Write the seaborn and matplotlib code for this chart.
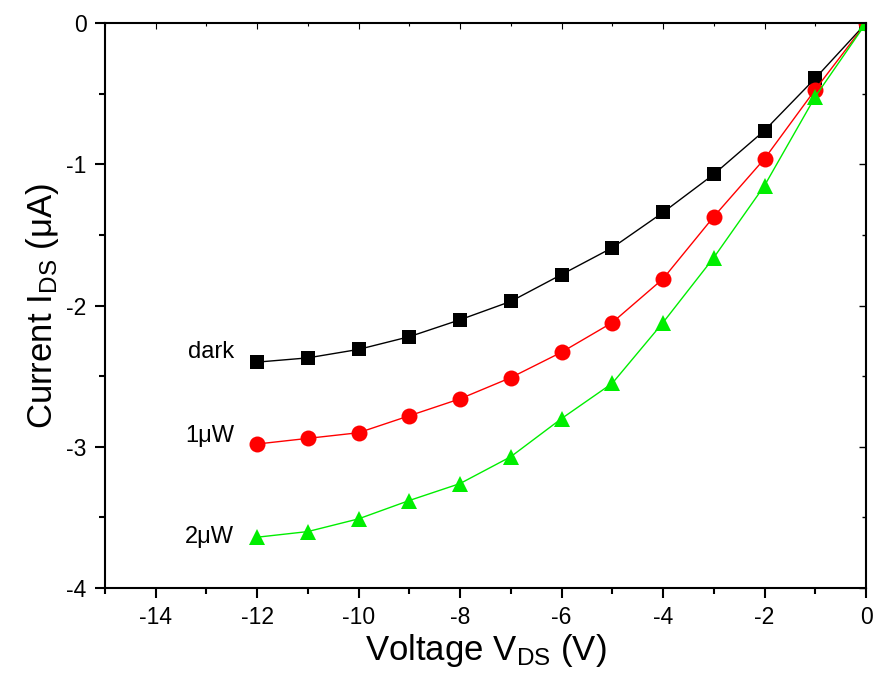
import numpy as np
import pandas as pd
import matplotlib
matplotlib.use("Agg")
import matplotlib.pyplot as plt
import seaborn as sns
from matplotlib.ticker import MultipleLocator

voltage = [-12, -11, -10, -9, -8, -7, -6, -5, -4, -3, -2, -1, 0]
dark = [-2.40, -2.37, -2.31, -2.22, -2.10, -1.97, -1.78, -1.59, -1.34, -1.07, -0.76, -0.39, 0.0]
p1uw = [-2.98, -2.94, -2.90, -2.78, -2.66, -2.51, -2.33, -2.12, -1.81, -1.37, -0.96, -0.47, 0.0]
p2uw = [-3.64, -3.60, -3.51, -3.38, -3.26, -3.07, -2.80, -2.55, -2.12, -1.66, -1.15, -0.52, 0.0]
series_names = ["dark", "1μW", "2μW"]
label_y = [-2.33, -2.92, -3.64]

sns.set_theme(style="white")
plt.rcParams['font.family'] = ['Liberation Sans', 'DejaVu Sans']
plt.rcParams['mathtext.fontset'] = 'custom'
plt.rcParams['mathtext.rm'] = 'Liberation Sans'
plt.rcParams['mathtext.it'] = 'Liberation Sans:italic'
plt.rcParams['axes.unicode_minus'] = False
plt.rcParams['text.color'] = 'black'
plt.rcParams['axes.labelcolor'] = 'black'
plt.rcParams['xtick.color'] = 'black'
plt.rcParams['ytick.color'] = 'black'

df = pd.concat([
    pd.DataFrame({"V": voltage, "I": vals, "series": name})
    for name, vals in zip(series_names, [dark, p1uw, p2uw])
])

fig = plt.figure(figsize=(8.73, 6.83), dpi=100)
ax = fig.add_axes([0.120, 0.139, 0.872, 0.827])

colors = {"dark": "#000000", "1μW": "#ff0000", "2μW": "#00ee00"}
markers = {"dark": "s", "1μW": "o", "2μW": "^"}
sizes_ms = {"dark": 10.5, "1μW": 11.5, "2μW": 12}
for name in series_names:
    sub = df[df.series == name]
    sns.lineplot(data=sub, x="V", y="I", ax=ax, color=colors[name],
                 marker=markers[name], markersize=sizes_ms[name],
                 markeredgewidth=0, linewidth=1.0, legend=False)

for name, ly in zip(series_names, label_y):
    ax.text(-12.45, ly, name, ha="right", va="center", fontsize=17)

ax.set_xlim(-15, 0)
ax.set_ylim(-4, 0)
ax.xaxis.set_major_locator(MultipleLocator(2))
ax.xaxis.set_minor_locator(MultipleLocator(1))
ax.yaxis.set_major_locator(MultipleLocator(1))
ax.yaxis.set_minor_locator(MultipleLocator(0.5))
ax.tick_params(which="both", direction="out", top=False, right=False,
               bottom=True, left=True, color="black", labelsize=16.5, pad=6)
ax.tick_params(which="major", length=7, width=1.5)
ax.tick_params(which="minor", length=4, width=1.5)
for s in ax.spines.values():
    s.set_color("black")
    s.set_linewidth(1.5)

# mirrored inward ticks on top and right
secx = ax.secondary_xaxis('top')
secx.xaxis.set_major_locator(MultipleLocator(2))
secx.xaxis.set_minor_locator(MultipleLocator(1))
secx.tick_params(which="both", direction="in", top=True, labeltop=False, color="black")
secx.tick_params(which="major", length=4, width=0.8)
secx.tick_params(which="minor", length=2.5, width=0.8)
secy = ax.secondary_yaxis('right')
secy.yaxis.set_major_locator(MultipleLocator(1))
secy.yaxis.set_minor_locator(MultipleLocator(0.5))
secy.tick_params(which="both", direction="in", right=True, labelright=False, color="black")
secy.tick_params(which="major", length=5, width=1.0)
secy.tick_params(which="minor", length=3, width=1.0)

ax.set_xlabel(r"Voltage V$_{\mathregular{DS}}$ (V)", fontsize=25, labelpad=2)
ax.set_ylabel(r"Current I$_{\mathregular{DS}}$ (μA)", fontsize=25, labelpad=4)

fig.savefig("out.png", dpi=100)
